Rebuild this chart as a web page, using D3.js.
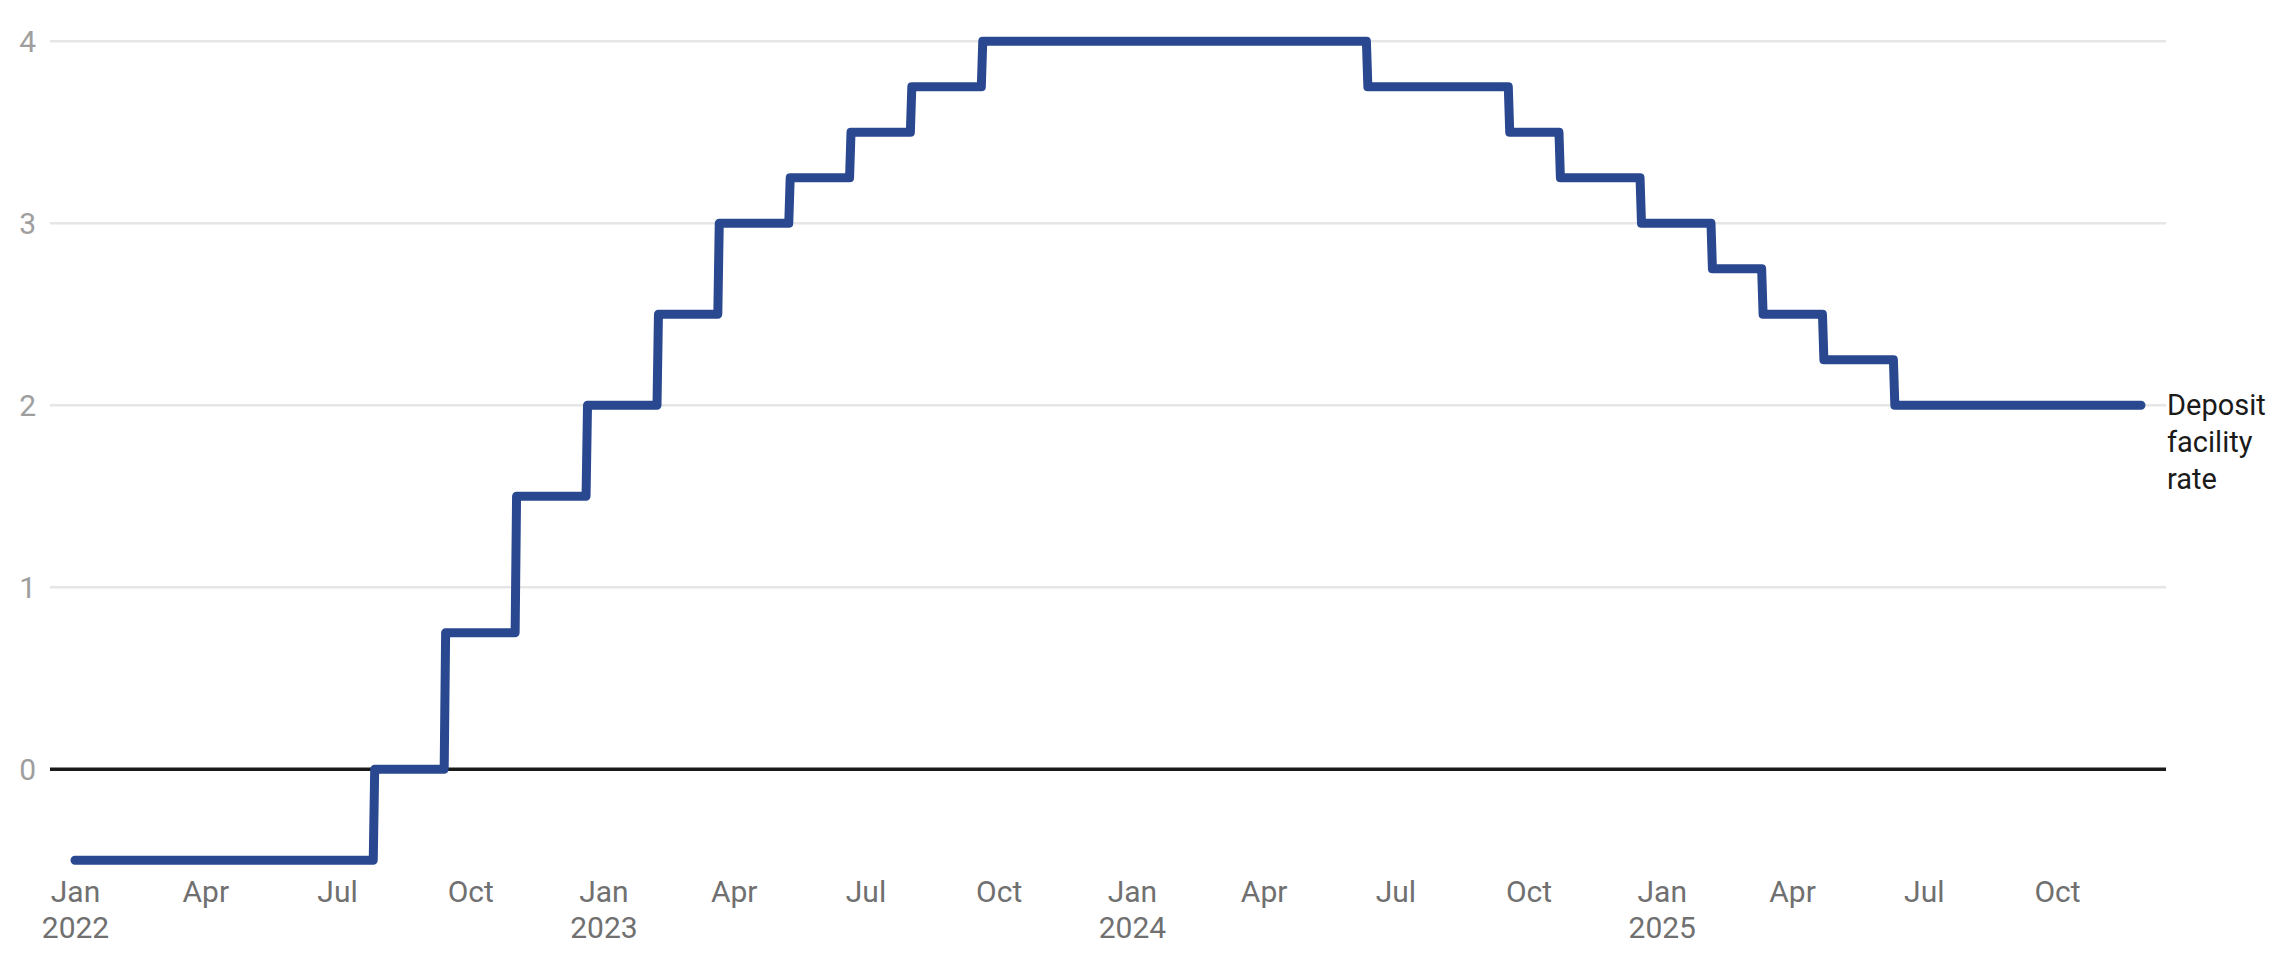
<!DOCTYPE html>
<html>
<head>
<meta charset="utf-8">
<script src="https://cdn.jsdelivr.net/npm/d3@7"></script>
<style>
  html, body { margin: 0; padding: 0; background: #fff; }
  svg { display: block; font-family: Roboto, "Noto Sans", sans-serif; }
</style>
</head>
<body>
<svg id="chart" width="2282" height="957"></svg>
<script>
// ---- data ----
const changeDates = ["2022-01-01","2022-07-27","2022-09-14","2022-11-02","2022-12-21",
  "2023-02-08","2023-03-22","2023-05-10","2023-06-21","2023-08-02","2023-09-20",
  "2024-06-12","2024-09-18","2024-10-23","2024-12-18",
  "2025-02-05","2025-03-12","2025-04-23","2025-06-11"];
const rates = [-0.5, 0, 0.75, 1.5, 2.0, 2.5, 3.0, 3.25, 3.5, 3.75, 4.0,
  3.75, 3.5, 3.25, 3.0, 2.75, 2.5, 2.25, 2.0];
const lastDate = "2025-11-28";
const seriesLabel = ["Deposit", "facility", "rate"];
const yTicks = [0, 1, 2, 3, 4];
const xTickDates = ["2022-01-01","2022-04-01","2022-07-01","2022-10-01",
  "2023-01-01","2023-04-01","2023-07-01","2023-10-01",
  "2024-01-01","2024-04-01","2024-07-01","2024-10-01",
  "2025-01-01","2025-04-01","2025-07-01","2025-10-01"];
const monthNames = ["Jan","Feb","Mar","Apr","May","Jun","Jul","Aug","Sep","Oct","Nov","Dec"];

const parse = d3.utcParse("%Y-%m-%d");
const svg = d3.select("#chart");

const plotLeft = 50, plotRight = 2166;
const x = d3.scaleUtc()
  .domain([parse("2022-01-01"), parse("2025-10-01")])
  .range([75, 2057]);
const y = d3.scaleLinear().domain([0, 4]).range([769.3, 41.3]);

// build daily series: each change — previous rate until the day before, new rate from the change date
const series = [];
changeDates.forEach((ds, i) => {
  const d = parse(ds);
  if (i > 0) series.push({ date: d3.utcDay.offset(d, -1), value: rates[i - 1] });
  series.push({ date: d, value: rates[i] });
});
series.push({ date: parse(lastDate), value: rates[rates.length - 1] });

// gridlines
svg.append("g").selectAll("line")
  .data(yTicks.filter(t => t !== 0))
  .join("line")
  .attr("x1", plotLeft).attr("x2", plotRight)
  .attr("y1", d => y(d)).attr("y2", d => y(d))
  .attr("stroke", "#e6e6e6").attr("stroke-width", 2.5);

// y axis labels
const yAxis = d3.axisLeft(y).tickValues(yTicks).tickSize(0).tickPadding(0).tickFormat(d3.format("d"));
const yg = svg.append("g").attr("transform", "translate(36,0)").call(yAxis);
yg.select(".domain").remove();
yg.selectAll("text")
  .attr("font-size", 30).attr("fill", "#9e9e9e")
  .attr("font-family", "Roboto, sans-serif")
  .attr("dy", "0.35em");

// zero line
svg.append("line")
  .attr("x1", plotLeft).attr("x2", plotRight)
  .attr("y1", y(0)).attr("y2", y(0))
  .attr("stroke", "#1a1a1a").attr("stroke-width", 3.5);

// x axis labels
const xAxis = d3.axisBottom(x).tickValues(xTickDates.map(parse)).tickSize(0).tickPadding(0).tickFormat("");
const xg = svg.append("g").attr("transform", "translate(0,0)").call(xAxis);
xg.select(".domain").remove();
xg.selectAll(".tick text").remove();
xg.selectAll(".tick").each(function(d) {
  const t = d3.select(this).append("text")
    .attr("text-anchor", "middle")
    .attr("font-size", 30).attr("fill", "#707070")
    .attr("font-family", "Roboto, sans-serif");
  t.append("tspan").attr("x", 0).attr("y", 901.7).text(monthNames[d.getUTCMonth()]);
  if (d.getUTCMonth() === 0) {
    t.append("tspan").attr("x", 0).attr("y", 938.3).text(d.getUTCFullYear());
  }
});

// line
const line = d3.line().x(d => x(d.date)).y(d => y(d.value));
svg.append("path")
  .datum(series)
  .attr("d", line)
  .attr("fill", "none")
  .attr("stroke", "#29488f")
  .attr("stroke-width", 9)
  .attr("stroke-linejoin", "round")
  .attr("stroke-linecap", "round");

// series label
const last = series[series.length - 1];
const lbl = svg.append("text")
  .attr("x", plotRight + 1)
  .attr("font-size", 29).attr("fill", "#1a1a1a")
  .attr("font-family", "Roboto, sans-serif");
seriesLabel.forEach((s, i) => {
  lbl.append("tspan").attr("x", plotRight + 1).attr("y", y(last.value) + 10 + i * 36.7).text(s);
});
</script>
</body>
</html>
